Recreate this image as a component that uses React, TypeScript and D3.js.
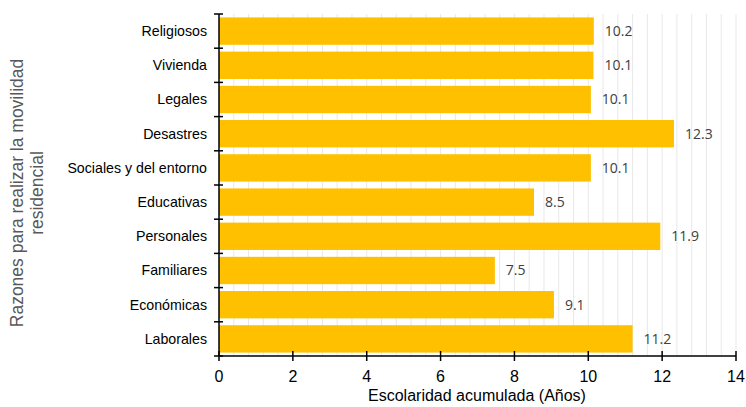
import React from "react";
import * as d3 from "d3";

const categories = [
  "Religiosos",
  "Vivienda",
  "Legales",
  "Desastres",
  "Sociales y del entorno",
  "Educativas",
  "Personales",
  "Familiares",
  "Económicas",
  "Laborales",
];
const values = [10.15, 10.14, 10.07, 12.32, 10.07, 8.53, 11.95, 7.47, 9.07, 11.2];
const valueLabels = ["10.2", "10.1", "10.1", "12.3", "10.1", "8.5", "11.9", "7.5", "9.1", "11.2"];
const xTicks = [0, 2, 4, 6, 8, 10, 12, 14];

const W = 746;
const H = 407;
const M = { left: 219, right: 10, top: 14, bottom: 51 };

export default function App() {
  const x = d3.scaleLinear().domain([0, 14]).range([M.left, W - M.right]);
  const y = d3
    .scaleBand<string>()
    .domain(categories)
    .range([M.top, H - M.bottom])
    .paddingInner(0.2)
    .paddingOuter(0.1);
  const step = y.step();
  const bandTop = (c: string) => M.top + categories.indexOf(c) * step;
  const minor = d3.range(1, 36).map((i) => +(i * 0.4).toFixed(2));
  const axisY = H - M.bottom;
  const sans = "Liberation Sans, Arial, sans-serif";
  const valFont = "Open Sans, sans-serif";
  return (
    <svg
      width={W}
      height={H}
      style={{ position: "absolute", left: 0, top: 0, background: "#fff" }}
    >
      {minor.map((v) => (
        <line
          key={v}
          x1={x(v)}
          x2={x(v)}
          y1={M.top}
          y2={axisY}
          stroke="#e8e8e8"
          strokeWidth={1}
        />
      ))}
      {categories.map((c, i) => (
        <rect
          key={c}
          x={x(0)}
          y={y(c)}
          width={x(values[i]) - x(0)}
          height={y.bandwidth()}
          fill="#FFC000"
        />
      ))}
      {categories.map((c, i) => (
        <text
          key={c + "v"}
          x={x(values[i]) + 11}
          y={bandTop(c) + step / 2}
          dy="0.35em"
          fontFamily={valFont}
          fontSize={14}
          fill="#404040"
        >
          {valueLabels[i]}
        </text>
      ))}
      {categories.map((c) => (
        <text
          key={c + "l"}
          x={207}
          y={bandTop(c) + step / 2}
          dy="0.35em"
          textAnchor="end"
          fontFamily={sans}
          fontSize={14.2}
          fill="#000"
        >
          {c}
        </text>
      ))}
      {/* y axis */}
      <line x1={x(0)} x2={x(0)} y1={M.top} y2={axisY} stroke="#000" strokeWidth={1.5} />
      {d3.range(0, categories.length + 1).map((i) => (
        <line
          key={"yt" + i}
          x1={x(0) - 5}
          x2={x(0) + 4}
          y1={M.top + i * step}
          y2={M.top + i * step}
          stroke="#000"
          strokeWidth={1.5}
        />
      ))}
      {/* x axis */}
      <line x1={x(0)} x2={x(14)} y1={axisY} y2={axisY} stroke="#000" strokeWidth={1.5} />
      {xTicks.map((t) => (
        <g key={"xt" + t}>
          <line x1={x(t)} x2={x(t)} y1={axisY - 5} y2={axisY + 5} stroke="#000" strokeWidth={1.5} />
          <text
            x={x(t)}
            y={axisY + 20}
            dy="0.35em"
            textAnchor="middle"
            fontFamily={sans}
            fontSize={16}
            fill="#000"
          >
            {t}
          </text>
        </g>
      ))}
      <text
        x={477}
        y={401}
        textAnchor="middle"
        fontFamily={sans}
        fontSize={16}
        fill="#000"
      >
        Escolaridad acumulada (Años)
      </text>
      <g transform="translate(27,193) rotate(-90)">
        <text textAnchor="middle" fontFamily={sans} fontSize={17.5} fill="#595959" y={-4}>
          Razones para realizar la movilidad
        </text>
        <text textAnchor="middle" fontFamily={sans} fontSize={17.5} fill="#595959" y={16}>
          residencial
        </text>
      </g>
    </svg>
  );
}
